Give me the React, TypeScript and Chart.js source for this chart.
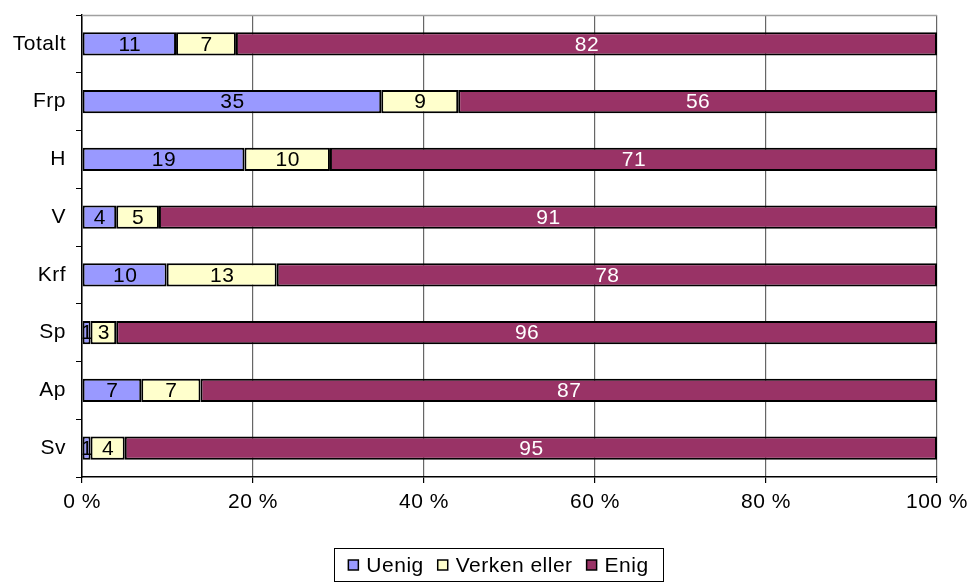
import React, { useEffect, useRef } from "react";
import { Chart, registerables } from "chart.js";

Chart.register(...registerables);

const categories = ["Totalt", "Frp", "H", "V", "Krf", "Sp", "Ap", "Sv"];
const seriesNames = ["Uenig", "Verken eller", "Enig"];
const uenig = [11, 35, 19, 4, 10, 1, 7, 1];
const verken = [7, 9, 10, 5, 13, 3, 7, 4];
const enig = [82, 56, 71, 91, 78, 96, 87, 95];
const xTicks = [0, 20, 40, 60, 80, 100];

const colors = ["#9999FF", "#FFFFCC", "#993366"];
const labelColors = ["#000000", "#000000", "#FFFFFF"];
const FONT = "'Liberation Sans', Arial, Helvetica, sans-serif";
const FS = 21;
const LS = "0.5px";

export default function App() {
  const ref = useRef<HTMLCanvasElement | null>(null);

  useEffect(() => {
    const canvas = ref.current;
    if (!canvas) return;
    const raw = [uenig, verken, enig];
    const totals = categories.map((_, i) => uenig[i] + verken[i] + enig[i]);
    const pct = raw.map((arr) => arr.map((v, i) => (v / totals[i]) * 100));

    const spacingPlugin = {
      id: "spacing",
      beforeDraw(chart: any) {
        chart.ctx.letterSpacing = LS;
      },
    };

    const labelPlugin = {
      id: "barLabels",
      afterDatasetsDraw(chart: any) {
        const ctx = chart.ctx;
        ctx.save();
        ctx.letterSpacing = LS;
        ctx.font = `${FS}px ${FONT}`;
        ctx.textAlign = "center";
        ctx.textBaseline = "middle";
        chart.data.datasets.forEach((ds: any, di: number) => {
          const meta = chart.getDatasetMeta(di);
          meta.data.forEach((el: any, i: number) => {
            const x = (el.x + el.base) / 2;
            ctx.fillStyle = labelColors[di];
            ctx.fillText(String(raw[di][i]), x + 0.5, el.y + 1);
          });
        });
        ctx.restore();
      },
    };

    const framePlugin = {
      id: "frame",
      beforeDatasetsDraw(chart: any) {
        const { ctx, chartArea } = chart;
        ctx.save();
        ctx.strokeStyle = "#a0a0a0";
        ctx.lineWidth = 1.5;
        ctx.beginPath();
        ctx.moveTo(chartArea.left, chartArea.top + 0.5);
        ctx.lineTo(chartArea.right, chartArea.top + 0.5);
        ctx.stroke();
        ctx.restore();
      },
    };

    const legendPlugin = {
      id: "boxLegend",
      afterDraw(chart: any) {
        const ctx = chart.ctx;
        ctx.save();
        ctx.letterSpacing = LS;
        ctx.font = `${FS}px ${FONT}`;
        const boxL = 334, boxT = 548, boxW = 329, boxH = 33;
        ctx.strokeStyle = "#000";
        ctx.lineWidth = 1;
        ctx.strokeRect(boxL + 0.5, boxT + 0.5, boxW, boxH);
        const marker = 10, gapText = 8, gapItem = 14;
        const widths = seriesNames.map((s) => ctx.measureText(s).width);
        const total = widths.reduce((a, b) => a + b, 0) + seriesNames.length * (marker + gapText) + (seriesNames.length - 1) * gapItem;
        let x = boxL + (boxW - total) / 2;
        const cy = boxT + 17;
        ctx.textBaseline = "middle";
        ctx.textAlign = "left";
        seriesNames.forEach((s, i) => {
          ctx.fillStyle = colors[i];
          ctx.fillRect(x, cy - marker / 2, marker, marker);
          ctx.strokeStyle = "#000";
          ctx.lineWidth = 1.5;
          ctx.strokeRect(x, cy - marker / 2, marker, marker);
          x += marker + gapText;
          ctx.fillStyle = "#000";
          ctx.fillText(s, x, cy + 1);
          x += widths[i] + gapItem;
        });
        ctx.restore();
      },
    };

    const chart = new Chart(canvas, {
      type: "bar",
      data: {
        labels: categories,
        datasets: seriesNames.map((name, di) => ({
          label: name,
          data: pct[di],
          backgroundColor: colors[di],
          borderColor: "#000000",
          borderWidth: 2,
          borderSkipped: false,
          barPercentage: 0.4,
          categoryPercentage: 1,
        })),
      },
      options: {
        indexAxis: "y",
        responsive: false,
        animation: false,
        layout: { padding: { left: 0, right: 34, top: 15, bottom: 0 } },
        plugins: {
          legend: { display: false },
          tooltip: { enabled: false },
        },
        scales: {
          x: {
            stacked: true,
            min: 0,
            max: 100,
            afterBuildTicks(scale: any) {
              scale.ticks = xTicks.map((v) => ({ value: v }));
            },
            afterFit(scale: any) {
              scale.height = 105;
              scale.paddingLeft = 0;
              scale.paddingRight = 0;
            },
            border: { display: true, color: "#000", width: 1.5 },
            grid: {
              color: "#666666",
              lineWidth: 1.2,
              drawTicks: true,
              tickLength: 6,
              tickColor: "#000",
            },
            ticks: {
              color: "#000",
              font: { family: FONT, size: FS },
              padding: 7,
              maxRotation: 0,
              callback: (v: any) => `${v} %`,
            },
          },
          y: {
            stacked: true,
            afterFit(scale: any) {
              scale.width = 82;
              scale.paddingTop = 0;
              scale.paddingBottom = 0;
            },
            border: { display: true, color: "#000", width: 1.5 },
            grid: {
              offset: true,
              drawOnChartArea: false,
              drawTicks: true,
              tickLength: 6,
              color: "#000",
            },
            ticks: {
              color: "#000",
              font: { family: FONT, size: FS },
              padding: 10,
            },
          },
        },
      },
      plugins: [spacingPlugin, framePlugin, labelPlugin, legendPlugin],
    } as any);

    return () => chart.destroy();
  }, []);

  return (
    <div style={{ position: "fixed", left: 0, top: 0, width: 971, height: 582, background: "#fff" }}>
      <canvas ref={ref} width={971} height={582} style={{ display: "block" }} />
    </div>
  );
}
